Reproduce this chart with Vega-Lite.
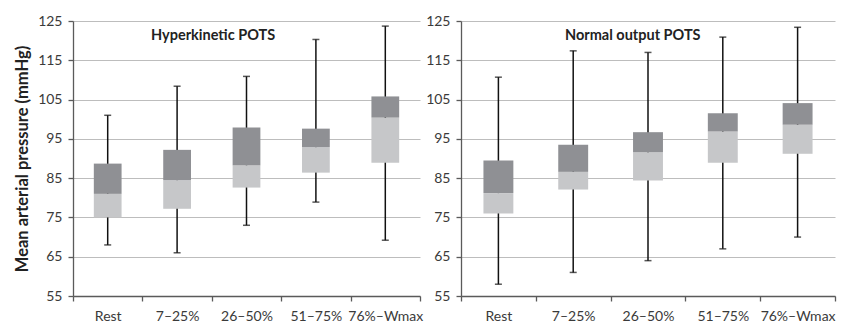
{
  "$schema": "https://vega.github.io/schema/vega-lite/v6.json",
  "padding": {"left": 14, "top": 14, "right": 5, "bottom": 0},
  "background": "white",
  "datasets": {
    "boxes": [
      {"panel": "H", "stage": "Rest", "lo": 68, "q1": 75.0, "med": 81.0, "q3": 88.7, "hi": 101},
      {"panel": "H", "stage": "7–25%", "lo": 66, "q1": 77.2, "med": 84.5, "q3": 92.2, "hi": 108.4},
      {"panel": "H", "stage": "26–50%", "lo": 73, "q1": 82.6, "med": 88.3, "q3": 97.9, "hi": 110.9},
      {"panel": "H", "stage": "51–75%", "lo": 78.9, "q1": 86.4, "med": 92.9, "q3": 97.6, "hi": 120.3},
      {"panel": "H", "stage": "76%–Wmax", "lo": 69.2, "q1": 88.9, "med": 100.4, "q3": 105.8, "hi": 123.7},
      {"panel": "N", "stage": "Rest", "lo": 58, "q1": 76.0, "med": 81.2, "q3": 89.5, "hi": 110.7},
      {"panel": "N", "stage": "7–25%", "lo": 61, "q1": 82.1, "med": 86.6, "q3": 93.5, "hi": 117.4},
      {"panel": "N", "stage": "26–50%", "lo": 64, "q1": 84.4, "med": 91.6, "q3": 96.7, "hi": 117.0},
      {"panel": "N", "stage": "51–75%", "lo": 67, "q1": 88.9, "med": 96.9, "q3": 101.5, "hi": 120.9},
      {"panel": "N", "stage": "76%–Wmax", "lo": 70, "q1": 91.2, "med": 98.6, "q3": 104.1, "hi": 123.4}
    ]
  },
  "config": {
    "font": "Lato",
    "view": {"stroke": null},
    "axis": {
      "labelFont": "Lato", "labelFontSize": 14, "labelColor": "#3a3a3a",
      "titleFont": "Lato", "titleFontSize": 16.5, "titleFontWeight": "bold", "titleColor": "#222222",
      "domainColor": "#5a5a5a", "domainWidth": 1.3, "tickColor": "#5a5a5a", "tickWidth": 1.3, "tickSize": 5,
      "gridColor": "#bdbdbd", "gridWidth": 1
    },
    "axisY": {"labelOverlap": false, "grid": true, "labelPadding": 6, "titlePadding": 7},
    "title": {"font": "Lato", "fontSize": 14.5, "fontWeight": "bold", "color": "#222222"}
  },
  "bounds": "flush",
  "spacing": 41,
  "hconcat": [
    {
      "width": 347, "height": 275,
      "data": {"name": "boxes"},
      "transform": [{"filter": "datum.panel == 'H'"}],
      "title": {"text": "Hyperkinetic POTS", "anchor": "start", "frame": "group", "dx": 78, "dy": 40, "baseline": "alphabetic", "offset": 0},
      "encoding": {
        "x": {"field": "stage", "type": "nominal", "sort": ["Rest", "7–25%", "26–50%", "51–75%", "76%–Wmax"],
              "scale": {"paddingInner": 0, "paddingOuter": 0},
              "axis": {"title": null, "labelAngle": 0, "tickBand": "extent", "labelPadding": 8, "grid": false}}
      },
      "layer": [
        {"mark": {"type": "rule", "color": "#111111", "strokeWidth": 1.5},
         "encoding": {"y": {"field": "lo", "type": "quantitative", "scale": {"domain": [55, 125], "nice": false},
                             "axis": {"title": "Mean arterial pressure (mmHg)", "values": [55, 65, 75, 85, 95, 105, 115, 125]}},
                      "y2": {"field": "hi"}}},
        {"mark": {"type": "tick", "color": "#111111", "thickness": 1.5, "size": 7},
         "encoding": {"y": {"field": "lo", "type": "quantitative", "axis": {"title": "Mean arterial pressure (mmHg)", "values": [55, 65, 75, 85, 95, 105, 115, 125]}}}},
        {"mark": {"type": "tick", "color": "#111111", "thickness": 1.5, "size": 7},
         "encoding": {"y": {"field": "hi", "type": "quantitative", "axis": {"title": "Mean arterial pressure (mmHg)", "values": [55, 65, 75, 85, 95, 105, 115, 125]}}}},
        {"mark": {"type": "bar", "color": "#c6c7c9", "width": {"band": 0.4}},
         "encoding": {"y": {"field": "q1", "type": "quantitative", "axis": {"title": "Mean arterial pressure (mmHg)", "values": [55, 65, 75, 85, 95, 105, 115, 125]}}, "y2": {"field": "med"}}},
        {"mark": {"type": "bar", "color": "#8f9094", "width": {"band": 0.4}},
         "encoding": {"y": {"field": "med", "type": "quantitative", "axis": {"title": "Mean arterial pressure (mmHg)", "values": [55, 65, 75, 85, 95, 105, 115, 125]}}, "y2": {"field": "q3"}}}
      ]
    },
    {
      "width": 374, "height": 275,
      "data": {"name": "boxes"},
      "transform": [{"filter": "datum.panel == 'N'"}],
      "title": {"text": "Normal output POTS", "anchor": "start", "frame": "group", "dx": 104, "dy": 40, "baseline": "alphabetic", "offset": 0},
      "encoding": {
        "x": {"field": "stage", "type": "nominal", "sort": ["Rest", "7–25%", "26–50%", "51–75%", "76%–Wmax"],
              "scale": {"paddingInner": 0, "paddingOuter": 0},
              "axis": {"title": null, "labelAngle": 0, "tickBand": "extent", "labelPadding": 8, "grid": false}}
      },
      "layer": [
        {"mark": {"type": "rule", "color": "#111111", "strokeWidth": 1.5},
         "encoding": {"y": {"field": "lo", "type": "quantitative", "scale": {"domain": [55, 125], "nice": false},
                             "axis": {"title": null, "values": [55, 65, 75, 85, 95, 105, 115, 125]}},
                      "y2": {"field": "hi"}}},
        {"mark": {"type": "tick", "color": "#111111", "thickness": 1.5, "size": 7},
         "encoding": {"y": {"field": "lo", "type": "quantitative", "axis": {"title": null, "values": [55, 65, 75, 85, 95, 105, 115, 125]}}}},
        {"mark": {"type": "tick", "color": "#111111", "thickness": 1.5, "size": 7},
         "encoding": {"y": {"field": "hi", "type": "quantitative", "axis": {"title": null, "values": [55, 65, 75, 85, 95, 105, 115, 125]}}}},
        {"mark": {"type": "bar", "color": "#c6c7c9", "width": {"band": 0.4}},
         "encoding": {"y": {"field": "q1", "type": "quantitative", "axis": {"title": null, "values": [55, 65, 75, 85, 95, 105, 115, 125]}}, "y2": {"field": "med"}}},
        {"mark": {"type": "bar", "color": "#8f9094", "width": {"band": 0.4}},
         "encoding": {"y": {"field": "med", "type": "quantitative", "axis": {"title": null, "values": [55, 65, 75, 85, 95, 105, 115, 125]}}, "y2": {"field": "q3"}}}
      ]
    }
  ]
}
